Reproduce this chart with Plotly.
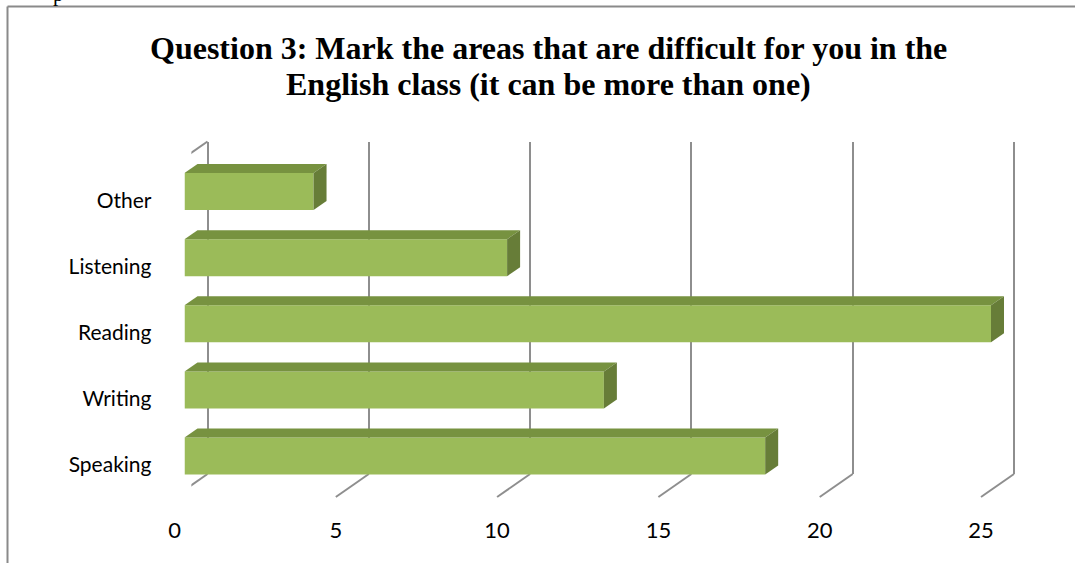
import plotly.graph_objects as go

# ---------------- data ----------------
categories = ["Speaking", "Writing", "Reading", "Listening", "Other"]
values = [18, 13, 25, 10, 4]
x_ticks = [0, 5, 10, 15, 20, 25]
title_line1 = "Question 3: Mark the areas that are difficult for you in the"
title_line2 = "English class (it can be more than one)"

# ---------------- styling / geometry ----------------
W, H = 1075, 563
FRONT = "#9BBB59"
TOP = "#779240"
SIDE = "#677D38"
GRID = "#8E8E8E"
FRAME = "#8A8A8A"

PX_PER_UNIT = 32.26          # horizontal pixels per value unit
ROW = 66.1                   # vertical pixels per category
DEPTH_X, DEPTH_Y = 33, 23    # floor depth (pixels)
BAR_DX, BAR_DY = 13, 9       # bar depth (pixels)


def fx(px):
    return px / W


def fy(py):
    return 1 - py / H


back_x0 = 207.5            # pixel of value 0 on back plane
bar_x0 = 184.5             # pixel of value 0 on bar front face
bar_row0 = 456.0           # pixel center of first category

fig = go.Figure()

positions = list(range(len(categories)))
bar_w = 37 / ROW

fig.add_trace(go.Bar(
    x=values, y=positions, orientation="h", width=bar_w,
    marker=dict(color=FRONT, line=dict(width=0)),
    xaxis="x2", yaxis="y2", hoverinfo="skip", showlegend=False,
))

shapes = []
dxu = BAR_DX / PX_PER_UNIT
dyu = BAR_DY / ROW
h = bar_w / 2
for p, v in zip(positions, values):
    top = (f"M 0,{p + h} L {v},{p + h} L {v + dxu},{p + h + dyu} "
           f"L {dxu},{p + h + dyu} Z")
    side = (f"M {v},{p - h} L {v},{p + h} L {v + dxu},{p + h + dyu} "
            f"L {v + dxu},{p - h + dyu} Z")
    shapes.append(dict(type="path", path=top, xref="x2", yref="y2",
                       fillcolor=TOP, line=dict(width=0), layer="above"))
    shapes.append(dict(type="path", path=side, xref="x2", yref="y2",
                       fillcolor=SIDE, line=dict(width=0), layer="above"))

# floor diagonals at each tick
floor_front = 497
floor_back = floor_front - DEPTH_Y
wall_top_back = 141.5
wall_top_front = wall_top_back + DEPTH_Y
for t in x_ticks:
    shapes.append(dict(type="line", xref="x", xsizemode="pixel", xanchor=t,
                       x0=-DEPTH_X, x1=0, yref="paper",
                       y0=fy(floor_front), y1=fy(floor_back),
                       line=dict(color=GRID, width=2), layer="below"))
# left wall
shapes.append(dict(type="line", xref="x", xsizemode="pixel", xanchor=0,
                   x0=-DEPTH_X, x1=-DEPTH_X, yref="paper",
                   y0=fy(floor_front), y1=fy(wall_top_front),
                   line=dict(color=GRID, width=2), layer="below"))
shapes.append(dict(type="line", xref="x", xsizemode="pixel", xanchor=0,
                   x0=-DEPTH_X, x1=0, yref="paper",
                   y0=fy(wall_top_front), y1=fy(wall_top_back),
                   line=dict(color=GRID, width=2), layer="below"))
# outer frame (partially visible)
shapes.append(dict(type="line", xref="paper", yref="paper",
                   x0=fx(7.5), x1=1, y0=fy(6.5), y1=fy(6.5),
                   line=dict(color=FRAME, width=2)))
shapes.append(dict(type="line", xref="paper", yref="paper",
                   x0=fx(7.5), x1=fx(7.5), y0=fy(6.5), y1=0,
                   line=dict(color=FRAME, width=2)))

x_lo, x_hi = -0.5, 25.5
fig.update_layout(
    width=W, height=H,
    margin=dict(l=0, r=0, t=0, b=0, pad=0, autoexpand=False),
    paper_bgcolor="white", plot_bgcolor="rgba(0,0,0,0)",
    showlegend=False,
    shapes=shapes,
    xaxis=dict(
        domain=[fx(back_x0 + x_lo * PX_PER_UNIT), fx(back_x0 + x_hi * PX_PER_UNIT)],
        range=[x_lo, x_hi], anchor="y", automargin=False,
        tickmode="array", tickvals=x_ticks, ticktext=[str(t) for t in x_ticks],
        showgrid=True, gridcolor=GRID, gridwidth=2,
        zeroline=False, showline=False, ticks="",
        ticklabelshift=-DEPTH_X, ticklabelstandoff=41,
        tickfont=dict(family="Lato", size=22, color="black"),
    ),
    yaxis=dict(
        domain=[fy(floor_back), fy(wall_top_back)], range=[0, 1], anchor="x",
        automargin=False,
        showgrid=False, zeroline=False, showticklabels=False, showline=False,
    ),
    xaxis2=dict(
        domain=[fx(bar_x0), fx(bar_x0 + 26 * PX_PER_UNIT)], range=[0, 26],
        anchor="y2", automargin=False,
        showgrid=False, zeroline=False, showticklabels=False,
        showline=False, ticks="",
    ),
    yaxis2=dict(
        domain=[fy(bar_row0 + 0.6 * ROW), fy(bar_row0 - 4.7 * ROW)],
        range=[-0.6, 4.7], anchor="x2", automargin=False,
        tickmode="array", tickvals=positions, ticktext=categories,
        showgrid=False, zeroline=False, showline=False, ticks="",
        ticklabelshift=9, ticklabelstandoff=32,
        tickfont=dict(family="Lato", size=21, color="black"),
    ),
    annotations=[
        dict(text="<b>" + title_line1 + "</b>", x=fx(548), y=fy(48),
             xref="paper", yref="paper", xanchor="center", yanchor="middle",
             showarrow=False,
             font=dict(family="Liberation Serif", size=32, color="black")),
        dict(text="<b>" + title_line2 + "</b>", x=fx(548), y=fy(84),
             xref="paper", yref="paper", xanchor="center", yanchor="middle",
             showarrow=False,
             font=dict(family="Liberation Serif", size=32, color="black")),
        dict(text="p", x=fx(58), y=fy(8), xref="paper", yref="paper",
             xanchor="center", yanchor="bottom", showarrow=False,
             font=dict(family="Liberation Serif", size=21, color="black")),
    ],
)

fig.write_html(
    "out.html",
    config={"displayModeBar": False},
    post_script="document.body.style.margin='0';document.body.style.overflow='hidden';",
)
